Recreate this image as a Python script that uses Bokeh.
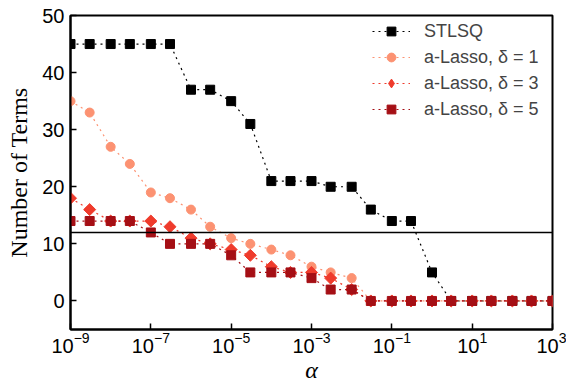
import math
from bokeh.plotting import figure
from bokeh.models import Range1d, FixedTicker, Span, Legend, LegendItem
from bokeh.embed import file_html
from bokeh.resources import INLINE

alpha = [1e-9, 3e-9, 1e-8, 3e-8, 1e-7, 3e-7, 1e-6, 3e-6, 1e-5, 3e-5,
         1e-4, 3e-4, 1e-3, 3e-3, 1e-2, 3e-2, 1e-1, 3e-1, 1, 3,
         10, 30, 100, 300, 1000]
stlsq = [45, 45, 45, 45, 45, 45, 37, 37, 35, 31, 21, 21, 21, 20, 20, 16, 14, 14, 5, 0, 0, 0, 0, 0, 0]
lasso_d1 = [35, 33, 27, 24, 19, 18, 16, 13, 11, 10, 9, 8, 6, 5, 4, 0, 0, 0, 0, 0, 0, 0, 0, 0, 0]
lasso_d3 = [18, 16, 14, 14, 14, 13, 11, 10, 9, 8, 6, 5, 5, 4, 2, 0, 0, 0, 0, 0, 0, 0, 0, 0, 0]
lasso_d5 = [14, 14, 14, 14, 12, 10, 10, 10, 8, 5, 5, 5, 4, 2, 2, 0, 0, 0, 0, 0, 0, 0, 0, 0, 0]
threshold = 12
x_ticks = [1e-9, 1e-7, 1e-5, 1e-3, 1e-1, 1e1, 1e3]
y_ticks = [0, 10, 20, 30, 40, 50]
labels = ["STLSQ", "a-Lasso, δ = 1", "a-Lasso, δ = 3", "a-Lasso, δ = 5"]

p = figure(width=566, height=387, x_axis_type="log", output_backend="svg",
           toolbar_location=None,
           x_range=Range1d(1e-9, 1e3), y_range=Range1d(-5, 50),
           min_border_left=70, min_border_right=14, min_border_top=15, min_border_bottom=58)
p.grid.visible = False
p.outline_line_color = "black"
p.outline_line_width = 2
p.background_fill_color = "white"
p.border_fill_color = "white"

for ax in (p.xaxis[0], p.yaxis[0]):
    ax.axis_line_width = 2
    ax.axis_line_color = "black"
    ax.major_tick_in = 6
    ax.major_tick_out = 0
    ax.major_tick_line_width = 1.5
    ax.minor_tick_in = 0
    ax.minor_tick_out = 0
    ax.major_label_text_font = "Liberation Sans"
    ax.major_label_text_font_size = "20px"
    ax.major_label_text_color = "black"

p.xaxis.ticker = FixedTicker(ticks=x_ticks, minor_ticks=[])
p.yaxis.ticker = FixedTicker(ticks=y_ticks, minor_ticks=[])
p.yaxis.major_label_standoff = 6
p.xaxis.major_label_standoff = 2

p.yaxis.axis_label = "Number of Terms"
p.yaxis.axis_label_text_font = "Liberation Serif"
p.yaxis.axis_label_text_font_style = "normal"
p.yaxis.axis_label_text_font_size = "24px"
p.yaxis.axis_label_text_color = "black"
p.yaxis.axis_label_standoff = 7

p.xaxis.axis_label = "α"
p.xaxis.axis_label_text_font = "Liberation Serif"
p.xaxis.axis_label_text_font_style = "italic"
p.xaxis.axis_label_text_font_size = "24px"
p.xaxis.axis_label_text_color = "black"
p.xaxis.axis_label_standoff = 1

p.add_layout(Span(location=threshold, dimension="width", line_color="black", line_width=1.5))

series = [
    (stlsq, "black", "square", 9, 0.0),
    (lasso_d1, "#fc9272", "circle", 9, 0.0),
    (lasso_d3, "#ef3b2c", "square", 8.5, math.pi / 4),
    (lasso_d5, "#a50f15", "square", 9, 0.0),
]
items = []
for (ys, col, mk, sz, ang), lab in zip(series, labels):
    ln = p.line(alpha, ys, line_color=col, line_dash="dotted", line_width=1.2)
    sc = p.scatter(alpha, ys, marker=mk, size=sz, angle=ang,
                   fill_color=col, line_color=col)
    if ang:
        # legend-only diamond marker (rotated squares do not rotate in legends)
        dummy = p.scatter(x=[1.0], y=[float("nan")], marker="diamond", size=12,
                          fill_color=col, line_color=col)
        items.append(LegendItem(label=lab, renderers=[ln, dummy]))
    else:
        items.append(LegendItem(label=lab, renderers=[ln, sc]))

legend = Legend(items=items, location=(298, 205))
legend.border_line_alpha = 0
legend.background_fill_alpha = 0
legend.label_text_font = "Liberation Sans"
legend.label_text_font_size = "18px"
legend.glyph_width = 38
legend.glyph_height = 22
legend.label_height = 22
legend.label_standoff = 14
legend.spacing = 4
legend.margin = 0
legend.padding = 4
p.add_layout(legend)

open("out.html", "w").write(file_html(p, INLINE))
